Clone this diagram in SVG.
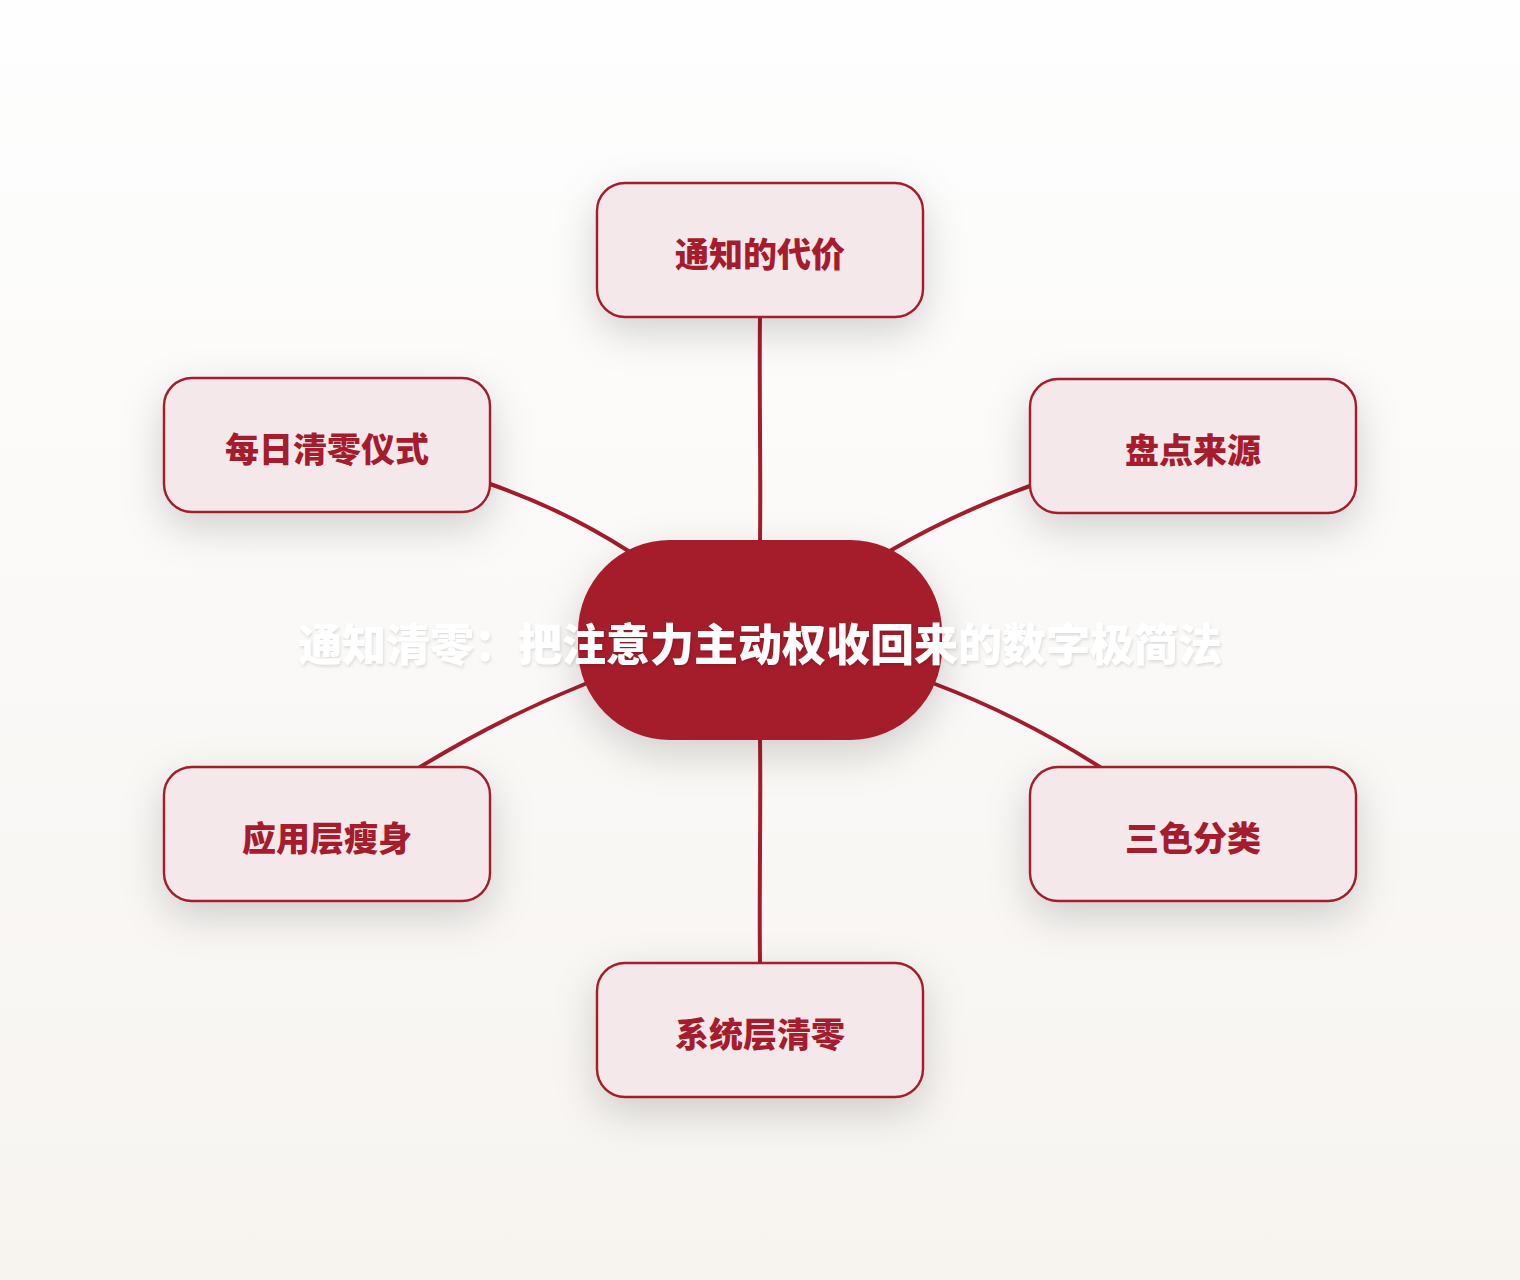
<svg xmlns="http://www.w3.org/2000/svg" width="1520" height="1280" viewBox="0 0 1520 1280">
  <defs>
    <linearGradient id="bg" x1="0" y1="0" x2="0" y2="1">
      <stop offset="0" stop-color="#fefefe"/>
      <stop offset="1" stop-color="#f7f4f0"/>
    </linearGradient>
    <filter id="shadow" x="-40%" y="-40%" width="180%" height="200%">
      <feDropShadow dx="0" dy="14" stdDeviation="20" flood-color="#000" flood-opacity="0.17"/>
    </filter>
    <filter id="tshadow" x="-10%" y="-30%" width="120%" height="160%">
      <feDropShadow dx="1" dy="2" stdDeviation="1.5" flood-color="#000" flood-opacity="0.12"/>
    </filter>
  </defs>
  <style>
    .edge { fill: none; stroke: #a51c2c; stroke-width: 4; stroke-linecap: round; }
    .box { fill: #f5e8ea; stroke: #a51c2c; stroke-width: 2.4; }
    .label { font-family: "Noto Sans CJK SC", "Noto Sans", sans-serif; font-weight: 900; font-size: 34px; fill: #a51c2c; text-anchor: middle; dominant-baseline: central; }
    .center-label { font-family: "Noto Sans CJK SC", "Noto Sans", sans-serif; font-weight: 900; font-size: 44px; fill: #ffffff; text-anchor: middle; dominant-baseline: central; }
  </style>
  <rect x="0" y="0" width="1520" height="1280" fill="url(#bg)"/>

  <g id="connectors">
    <path class="edge" d="M760,317 C759,390 761,470 760,542"/>
    <path class="edge" d="M490,484 Q565,510 630,552"/>
    <path class="edge" d="M1030,486 Q955,513 888,552"/>
    <path class="edge" d="M585,684 Q500,718 420,767"/>
    <path class="edge" d="M935,684 Q1020,716 1100,767"/>
    <path class="edge" d="M760,738 C761,810 759,890 760,963"/>
  </g>

  <g id="node-top">
    <rect class="box" x="597" y="183" width="326" height="134" rx="28" filter="url(#shadow)"/>
    <text class="label" x="760" y="252">通知的代价</text>
  </g>
  <g id="node-left-top">
    <rect class="box" x="164" y="378" width="326" height="134" rx="28" filter="url(#shadow)"/>
    <text class="label" x="327" y="447">每日清零仪式</text>
  </g>
  <g id="node-right-top">
    <rect class="box" x="1030" y="379" width="326" height="134" rx="28" filter="url(#shadow)"/>
    <text class="label" x="1193" y="448">盘点来源</text>
  </g>
  <g id="node-left-bottom">
    <rect class="box" x="164" y="767" width="326" height="134" rx="28" filter="url(#shadow)"/>
    <text class="label" x="327" y="836">应用层瘦身</text>
  </g>
  <g id="node-right-bottom">
    <rect class="box" x="1030" y="767" width="326" height="134" rx="28" filter="url(#shadow)"/>
    <text class="label" x="1193" y="836">三色分类</text>
  </g>
  <g id="node-bottom">
    <rect class="box" x="597" y="963" width="326" height="134" rx="28" filter="url(#shadow)"/>
    <text class="label" x="760" y="1032">系统层清零</text>
  </g>

  <g id="node-center">
    <rect x="578" y="540" width="364" height="200" rx="92" ry="92" fill="#a51c2a" filter="url(#shadow)"/>
    <text class="center-label" x="760" y="642" filter="url(#tshadow)">通知清零：把注意力主动权收回来的数字极简法</text>
  </g>
</svg>
